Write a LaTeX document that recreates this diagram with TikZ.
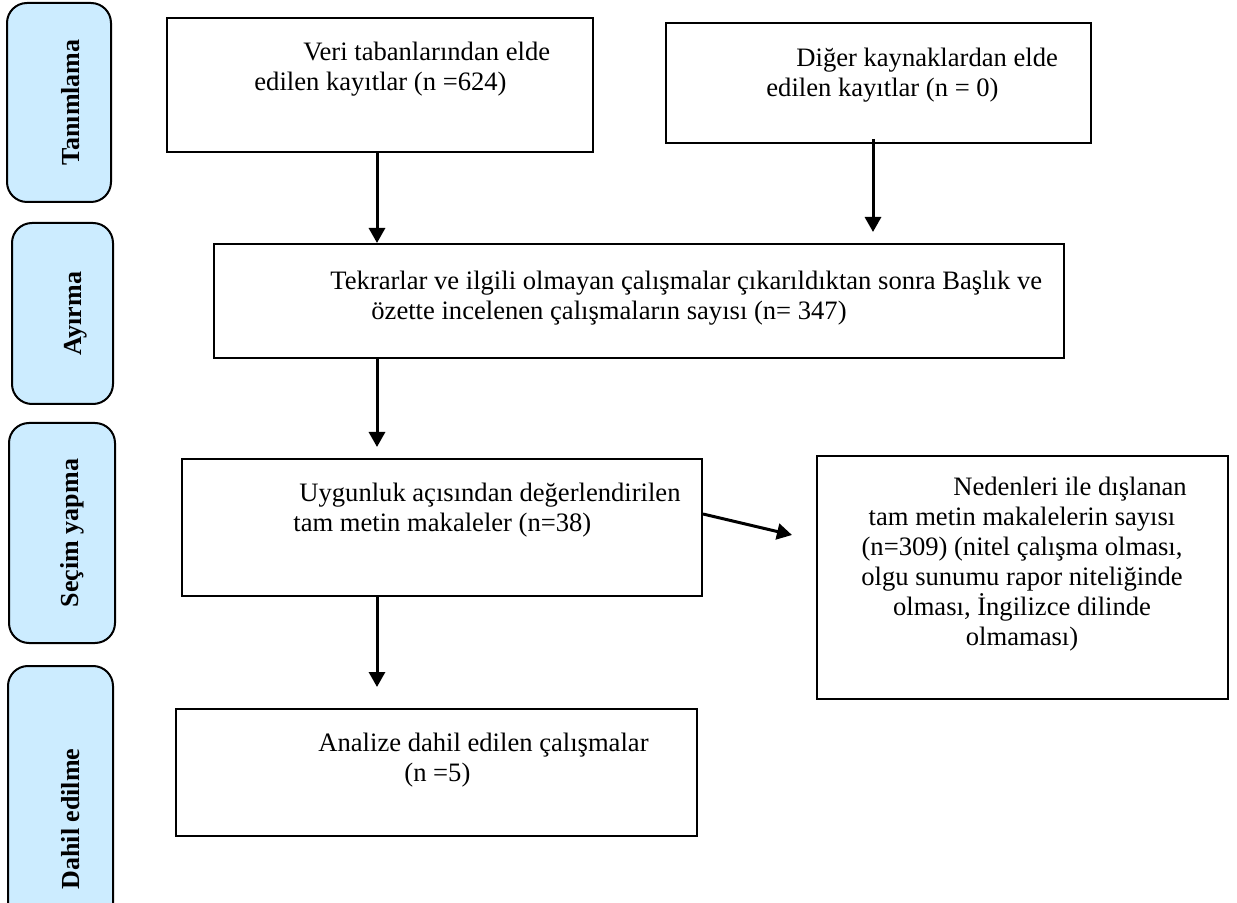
\documentclass[tikz,border=0pt]{standalone}
\usepackage{fontspec}
\setmainfont{Liberation Serif}
\usetikzlibrary{arrows.meta,positioning}
\definecolor{phasefill}{HTML}{CCECFF}

\begin{document}
\begin{tikzpicture}[x=0.5pt,y=-0.5pt,>={Triangle[length=7.5pt,width=8pt]},
  box/.style={draw,line width=1pt,inner sep=0pt},
  phase/.style={draw,line width=1pt,fill=phasefill,rounded corners=10pt,inner sep=0pt},
  phaselbl/.style={rotate=90,inner sep=0pt,font=\fontsize{13}{15}\selectfont\bfseries},
  txt/.style={anchor=north west,inner sep=0pt,align=left,font=\fontsize{13.3}{15}\selectfont},
  arr/.style={->,line width=1.5pt}]
\useasboundingbox (0,0) rectangle (1237,903);

% phases on the left
\node[phase,minimum width=52pt,minimum height=99.5pt] (tanim) at (59,102.5) {};
\node[phase,minimum width=50.5pt,minimum height=90.5pt] (ayir) at (62.5,313.5) {};
\node[phase,minimum width=53pt,minimum height=110pt] (secim) at (62,533) {};
\node[phase,minimum width=52.5pt,minimum height=153pt] (dahil) at (60.5,819) {};
\node[phaselbl] (tanimlbl) at (71,102.5) {Tanımlama};
\node[phaselbl] (ayirlbl) at (76,313.5) {Ayırma};
\node[phaselbl] (secimlbl) at (72.5,533) {Seçim yapma};
\node[phaselbl] (dahillbl) at (71,819) {Dahil edilme};

% boxes
\node[box,minimum width=213pt,minimum height=67pt] (veri) at (380,85) {};
\node[box,minimum width=212.5pt,minimum height=60pt] (diger) at (878.5,83) {};
\node[box,minimum width=425pt,minimum height=57pt] (tekrar) at (639,301) {};
\node[box,minimum width=260pt,minimum height=68.5pt] (uygun) at (442,527.5) {};
\node[box,minimum width=205.5pt,minimum height=121.5pt] (neden) at (1022.5,577.5) {};
\node[box,minimum width=260.5pt,minimum height=63.5pt] (analiz) at (436.5,772.5) {};

% texts
\node[txt] (veritxt) at (254,42) {\hspace*{24.5pt}Veri tabanlarından elde\\edilen kayıtlar (n =624)};
\node[txt] (digertxt) at (766,48) {\hspace*{15pt}Diğer kaynaklardan elde\\edilen kayıtlar (n = 0)};
\node[txt] (tekrartxt) at (330,271) {Tekrarlar ve ilgili olmayan çalışmalar çıkarıldıktan sonra Başlık ve\\\hspace*{20.5pt}özette incelenen çalışmaların sayısı (n= 347)};
\node[txt] (uyguntxt) at (293,483) {\hspace*{3pt}Uygunluk açısından değerlendirilen\\tam metin makaleler (n=38)};
\node[txt,anchor=north,align=center] (nedentxt) at (1022,477) {\hspace*{48pt}Nedenleri ile dışlanan\\tam metin makalelerin sayısı\\(n=309) (nitel çalışma olması,\\olgu sunumu rapor niteliğinde\\olması, İngilizce dilinde\\olmaması)};
\node[txt] (analiztxt) at (318,733) {Analize dahil edilen çalışmalar\\\hspace*{43pt}(n =5)};

% arrows
\coordinate (colA) at (377,0);
\coordinate (colB) at (873,0);
\coordinate (nedentip) at (792,535);
\draw[arr] (colA |- veri.south) -- (colA |- tekrar.north);
\draw[arr,shorten <=-2.5pt,shorten >=5.5pt] (colB |- diger.south) -- (colB |- tekrar.north);
\draw[arr,shorten >=5.5pt] (colA |- tekrar.south) -- (colA |- uygun.north);
\draw[arr] ([yshift=6.75pt]uygun.east) -- (nedentip);
\draw[arr,shorten >=10.5pt] (colA |- uygun.south) -- (colA |- analiz.north);
\end{tikzpicture}
\end{document}
